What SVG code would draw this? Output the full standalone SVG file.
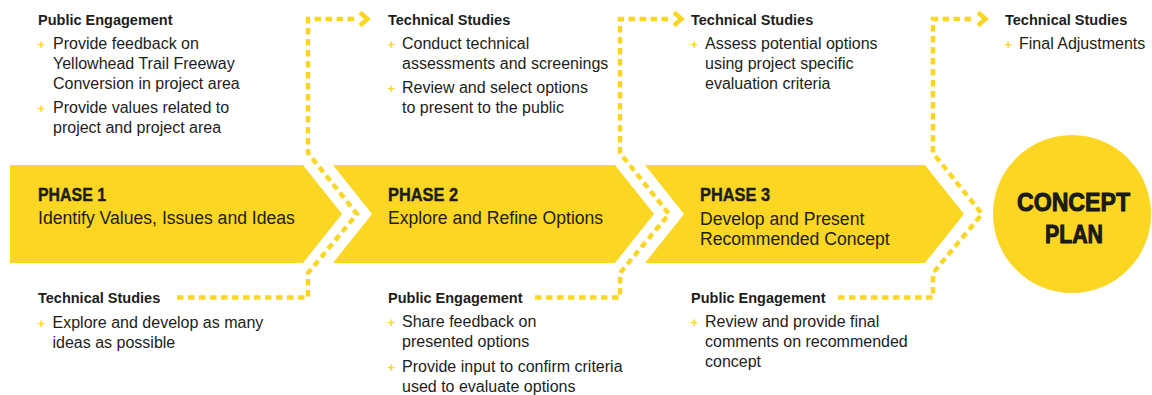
<svg xmlns="http://www.w3.org/2000/svg" width="1152" height="395" viewBox="0 0 1152 395">
<defs>
<style>
.bg{fill:#ffffff}
.shape{fill:#FBD622}
.dot{fill:none;stroke:#FBD622;stroke-width:4.5;stroke-dasharray:6.5 4.5}
.chev{fill:none;stroke:#FBD622;stroke-width:4.5;stroke-linejoin:miter}
text{font-family:"Liberation Sans",Arial,sans-serif;fill:#1d1d1b}
.hd{font-size:14.5px;font-weight:bold}
.bd{font-size:16px}
.pl{font-size:13px;font-weight:bold;fill:#FBD622}
.ph{font-size:17.5px;font-weight:bold;stroke:#1d1d1b;stroke-width:0.4}
.pt{font-size:17.6px}
.cp{font-size:25px;font-weight:bold;stroke:#111;stroke-width:0.9}
</style>
<marker id="arr" viewBox="0 0 20 20" markerUnits="userSpaceOnUse" markerWidth="20" markerHeight="20" refX="0" refY="10" orient="auto">
<path class="chev" d="M3,3.5 L10.5,10 L3,16.5"/>
</marker>
</defs>
<rect class="bg" x="0" y="0" width="1152" height="395"/>

<g id="phase1">
<path class="shape" d="M10,165 H303 L342,214 L303,263 H10 Z"/>
<text class="ph" x="38" y="201" textLength="68" lengthAdjust="spacingAndGlyphs">PHASE 1</text>
<text class="pt" x="38" y="224">Identify Values, Issues and Ideas</text>
</g>
<g id="phase2">
<path class="shape" d="M333,165 H615 L654,214 L615,263 H333 L372,214 Z"/>
<text class="ph" x="388" y="201" textLength="70" lengthAdjust="spacingAndGlyphs">PHASE 2</text>
<text class="pt" x="388" y="224">Explore and Refine Options</text>
</g>
<g id="phase3">
<path class="shape" d="M645,165 H925 L964,214 L925,263 H645 L684,214 Z"/>
<text class="ph" x="700" y="201" textLength="70" lengthAdjust="spacingAndGlyphs">PHASE 3</text>
<text class="pt" x="700" y="224.5">Develop and Present</text>
<text class="pt" x="700" y="244.5">Recommended Concept</text>
</g>
<g id="concept-plan">
<circle class="shape" cx="1072" cy="214" r="79"/>
<text class="cp" x="1017" y="211" textLength="113" lengthAdjust="spacingAndGlyphs">CONCEPT</text>
<text class="cp" x="1045" y="243" textLength="58" lengthAdjust="spacingAndGlyphs">PLAN</text>
</g>

<g id="connectors">
<path class="dot" d="M177,297.5 H308 V273 L357,214 L308,153 V19 H357" marker-end="url(#arr)"/>
<path class="dot" d="M535,297.5 H620 V273 L669,214 L620,153 V19 H671" marker-end="url(#arr)"/>
<path class="dot" d="M838,297.5 H933 V273 L982,214 L933,153 V19 H975" marker-end="url(#arr)"/>
</g>

<g id="public-engagement-1">
<text class="hd" x="38" y="25">Public Engagement</text>
<text class="pl" x="37.5" y="49">+</text>
<text class="bd" x="53" y="49">Provide feedback on</text>
<text class="bd" x="53" y="69">Yellowhead Trail Freeway</text>
<text class="bd" x="53" y="89">Conversion in project area</text>
<text class="pl" x="37.5" y="113">+</text>
<text class="bd" x="53" y="113">Provide values related to</text>
<text class="bd" x="53" y="133">project and project area</text>
</g>
<g id="technical-studies-1">
<text class="hd" x="38" y="303">Technical Studies</text>
<text class="pl" x="37.5" y="328">+</text>
<text class="bd" x="52.5" y="328">Explore and develop as many</text>
<text class="bd" x="52.5" y="348">ideas as possible</text>
</g>
<g id="technical-studies-2">
<text class="hd" x="388" y="25">Technical Studies</text>
<text class="pl" x="387.5" y="49">+</text>
<text class="bd" x="402" y="49">Conduct technical</text>
<text class="bd" x="402" y="69">assessments and screenings</text>
<text class="pl" x="387.5" y="93">+</text>
<text class="bd" x="402" y="93">Review and select options</text>
<text class="bd" x="402" y="113">to present to the public</text>
</g>
<g id="public-engagement-2">
<text class="hd" x="388" y="303">Public Engagement</text>
<text class="pl" x="387.5" y="327">+</text>
<text class="bd" x="402" y="327">Share feedback on</text>
<text class="bd" x="402" y="347">presented options</text>
<text class="pl" x="387.5" y="372">+</text>
<text class="bd" x="402" y="372">Provide input to confirm criteria</text>
<text class="bd" x="402" y="392">used to evaluate options</text>
</g>
<g id="technical-studies-3">
<text class="hd" x="691" y="25">Technical Studies</text>
<text class="pl" x="690.5" y="49">+</text>
<text class="bd" x="705" y="49">Assess potential options</text>
<text class="bd" x="705" y="69">using project specific</text>
<text class="bd" x="705" y="89">evaluation criteria</text>
</g>
<g id="public-engagement-3">
<text class="hd" x="691" y="303">Public Engagement</text>
<text class="pl" x="690.5" y="327">+</text>
<text class="bd" x="705" y="327">Review and provide final</text>
<text class="bd" x="705" y="347">comments on recommended</text>
<text class="bd" x="705" y="367">concept</text>
</g>
<g id="technical-studies-4">
<text class="hd" x="1005" y="25">Technical Studies</text>
<text class="pl" x="1004.5" y="49">+</text>
<text class="bd" x="1019" y="49">Final Adjustments</text>
</g>
</svg>
